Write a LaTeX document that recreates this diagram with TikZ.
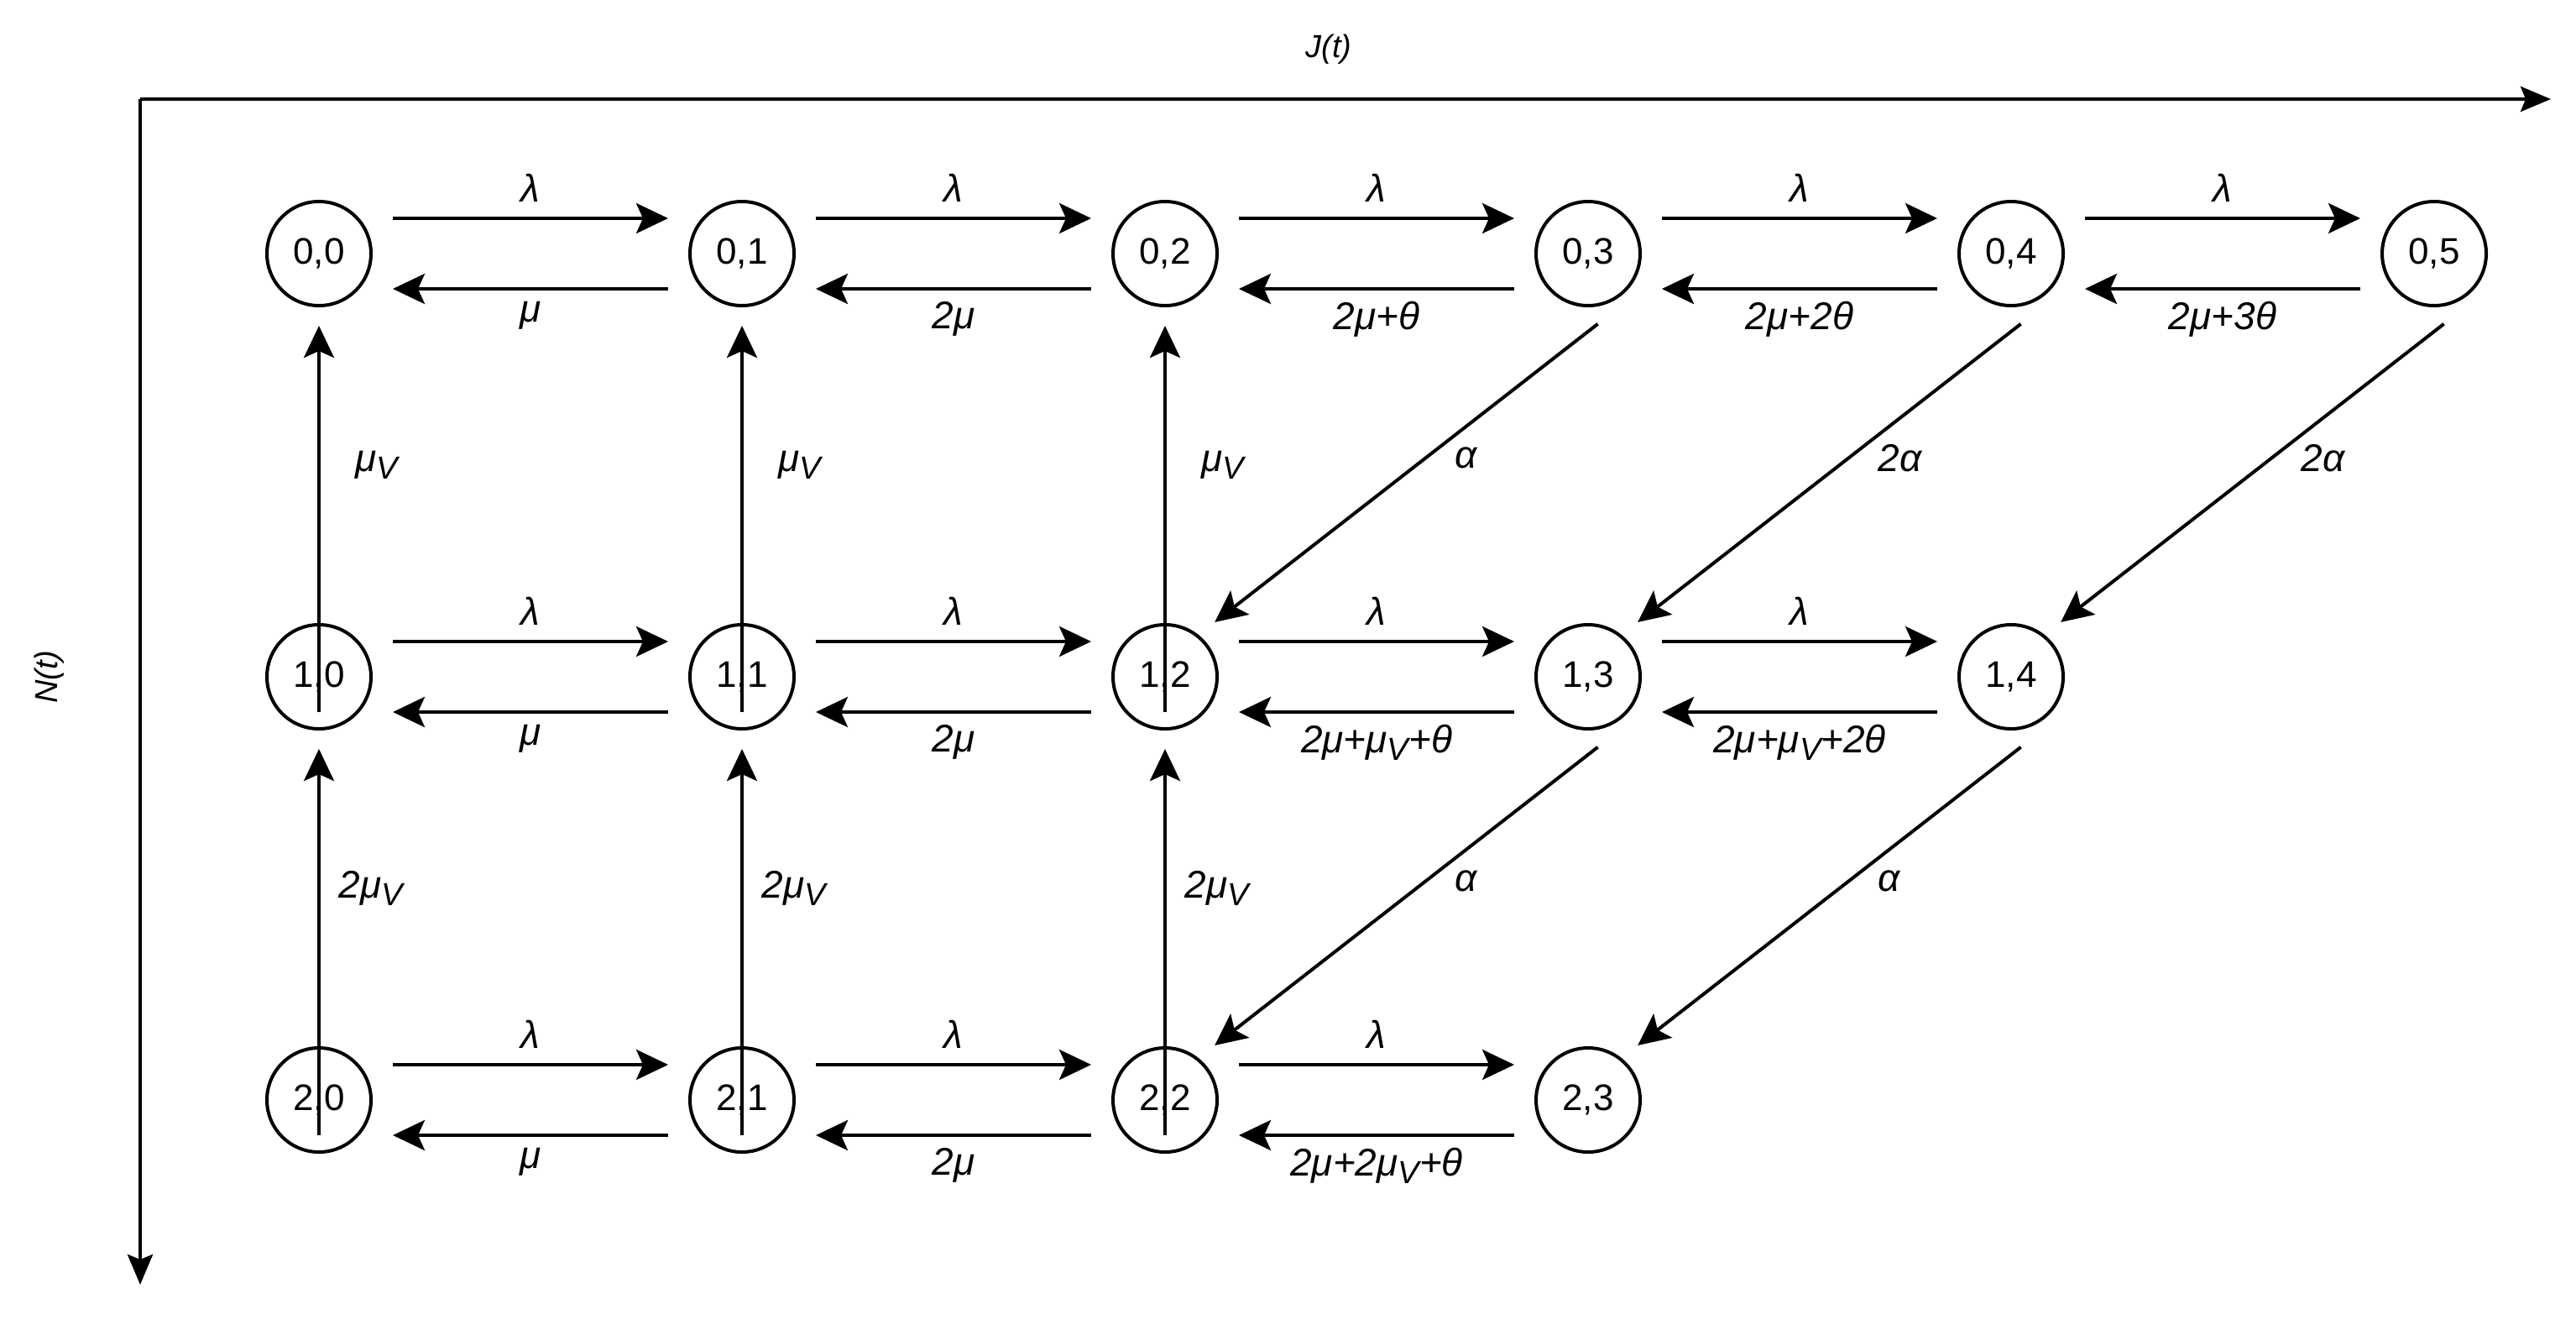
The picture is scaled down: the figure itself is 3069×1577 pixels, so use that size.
\documentclass[tikz,border=0pt]{standalone}
\usepackage{fontspec}
\setmainfont{Liberation Sans}
\usetikzlibrary{arrows.meta}
\newcommand\muvv{μ\raisebox{-0.35ex}{\fontsize{38}{38}\selectfont V}}
\begin{document}
\begin{tikzpicture}[x=1pt,y=-1pt,
  st/.style={circle,draw,line width=4pt,minimum size=124pt,inner sep=0pt,font=\fontsize{44}{44}\selectfont},
  ar/.style={line width=4pt,-{Stealth[length=38pt,width=36pt,inset=8pt]}},
  lb/.style={font=\fontsize{46}{46}\selectfont\itshape},
  ax/.style={line width=4pt,-{Stealth[length=36pt,width=30pt,inset=6pt]}}]
\useasboundingbox (0,0) rectangle (3069,1577);
\coordinate (o) at (167,118);
\coordinate (xe) at (3039,118);
\coordinate (ye) at (167,1530);
\draw[ax] (o) -- (xe);
\draw[ax] (o) -- (ye);
\node[font=\fontsize{38}{38}\selectfont\itshape] (J) at (1583,59) {J(t)};
\node[font=\fontsize{38}{38}\selectfont\itshape,rotate=90] (N) at (59,806) {N(t)};
% nodes
\foreach \c in {0,...,5}{\node[st] (n0\c) at (380+504*\c,302) {0,\c};}
\foreach \c in {0,...,4}{\node[st] (n1\c) at (380+504*\c,806) {1,\c};}
\foreach \c in {0,...,3}{\node[st] (n2\c) at (380+504*\c,1310) {2,\c};}
% horizontal
\newcommand\hpair[4]{%
  \draw[ar] ([shift={(24,-42)}]#1.east) -- node[lb,above=14pt]{λ} ([shift={(-24,-42)}]#2.west);
  \draw[ar] ([shift={(-24,42)}]#2.west) -- node[lb,below=10pt]{#3} ([shift={(24,42)}]#1.east);}
\hpair{n00}{n01}{μ}{}
\hpair{n01}{n02}{2μ}{}
\hpair{n02}{n03}{2μ+θ}{}
\hpair{n03}{n04}{2μ+2θ}{}
\hpair{n04}{n05}{2μ+3θ}{}
\hpair{n10}{n11}{μ}{}
\hpair{n11}{n12}{2μ}{}
\hpair{n12}{n13}{2μ+\muvv+θ}{}
\hpair{n13}{n14}{2μ+\muvv+2θ}{}
\hpair{n20}{n21}{μ}{}
\hpair{n21}{n22}{2μ}{}
\hpair{n22}{n23}{2μ+2\muvv+θ}{}
% vertical
\foreach \c in {0,1,2}{
  \draw[ar] ([yshift=22pt]n1\c.south) -- ([yshift=-22pt]n0\c.south) ;
  \draw[ar] ([yshift=22pt]n2\c.south) -- ([yshift=-22pt]n1\c.south);}
\foreach \c in {0,1,2}{
  \node[lb,anchor=west] (m0\c) at (380+504*\c+40,554) {\muvv};
  \node[lb,anchor=west] (m1\c) at (380+504*\c+20,1058) {2\muvv};}
% diagonals
\newcommand\dg[3]{\draw[ar] ([shift={(6,20)}]#1.-85) -- node[lb,right=30pt,pos=0.45]{#3} ([shift={(18,-16)}]#2.50);}
\dg{n03}{n12}{α}
\dg{n04}{n13}{2α}
\dg{n05}{n14}{2α}
\dg{n13}{n22}{α}
\dg{n14}{n23}{α}
\end{tikzpicture}
\end{document}
